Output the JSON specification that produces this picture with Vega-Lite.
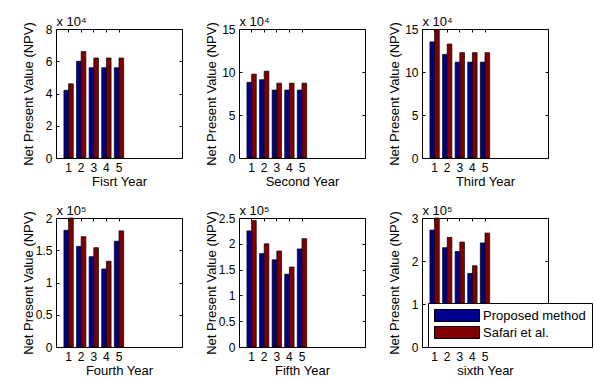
{
  "$schema": "https://vega.github.io/schema/vega-lite/v6.json",
  "padding": {"left": 21, "top": 14, "right": 0, "bottom": 0},
  "datasets": {
    "npv": [
      {"panel": "Fisrt Year", "case": 1, "method": "Proposed method", "npv": 42000},
      {"panel": "Fisrt Year", "case": 2, "method": "Proposed method", "npv": 60000},
      {"panel": "Fisrt Year", "case": 3, "method": "Proposed method", "npv": 56000},
      {"panel": "Fisrt Year", "case": 4, "method": "Proposed method", "npv": 56000},
      {"panel": "Fisrt Year", "case": 5, "method": "Proposed method", "npv": 56000},
      {"panel": "Fisrt Year", "case": 1, "method": "Safari et al.", "npv": 46000},
      {"panel": "Fisrt Year", "case": 2, "method": "Safari et al.", "npv": 66000},
      {"panel": "Fisrt Year", "case": 3, "method": "Safari et al.", "npv": 62000},
      {"panel": "Fisrt Year", "case": 4, "method": "Safari et al.", "npv": 62000},
      {"panel": "Fisrt Year", "case": 5, "method": "Safari et al.", "npv": 62000},
      {"panel": "Second Year", "case": 1, "method": "Proposed method", "npv": 88000},
      {"panel": "Second Year", "case": 2, "method": "Proposed method", "npv": 91000},
      {"panel": "Second Year", "case": 3, "method": "Proposed method", "npv": 79000},
      {"panel": "Second Year", "case": 4, "method": "Proposed method", "npv": 79000},
      {"panel": "Second Year", "case": 5, "method": "Proposed method", "npv": 79000},
      {"panel": "Second Year", "case": 1, "method": "Safari et al.", "npv": 97500},
      {"panel": "Second Year", "case": 2, "method": "Safari et al.", "npv": 101000},
      {"panel": "Second Year", "case": 3, "method": "Safari et al.", "npv": 87000},
      {"panel": "Second Year", "case": 4, "method": "Safari et al.", "npv": 87000},
      {"panel": "Second Year", "case": 5, "method": "Safari et al.", "npv": 87000},
      {"panel": "Third Year", "case": 1, "method": "Proposed method", "npv": 135000},
      {"panel": "Third Year", "case": 2, "method": "Proposed method", "npv": 120500},
      {"panel": "Third Year", "case": 3, "method": "Proposed method", "npv": 111500},
      {"panel": "Third Year", "case": 4, "method": "Proposed method", "npv": 111500},
      {"panel": "Third Year", "case": 5, "method": "Proposed method", "npv": 111500},
      {"panel": "Third Year", "case": 1, "method": "Safari et al.", "npv": 149000},
      {"panel": "Third Year", "case": 2, "method": "Safari et al.", "npv": 132500},
      {"panel": "Third Year", "case": 3, "method": "Safari et al.", "npv": 122500},
      {"panel": "Third Year", "case": 4, "method": "Safari et al.", "npv": 122500},
      {"panel": "Third Year", "case": 5, "method": "Safari et al.", "npv": 122500},
      {"panel": "Fourth Year", "case": 1, "method": "Proposed method", "npv": 181000},
      {"panel": "Fourth Year", "case": 2, "method": "Proposed method", "npv": 156000},
      {"panel": "Fourth Year", "case": 3, "method": "Proposed method", "npv": 140000},
      {"panel": "Fourth Year", "case": 4, "method": "Proposed method", "npv": 121000},
      {"panel": "Fourth Year", "case": 5, "method": "Proposed method", "npv": 164000},
      {"panel": "Fourth Year", "case": 1, "method": "Safari et al.", "npv": 200000},
      {"panel": "Fourth Year", "case": 2, "method": "Safari et al.", "npv": 171000},
      {"panel": "Fourth Year", "case": 3, "method": "Safari et al.", "npv": 154000},
      {"panel": "Fourth Year", "case": 4, "method": "Safari et al.", "npv": 133000},
      {"panel": "Fourth Year", "case": 5, "method": "Safari et al.", "npv": 180000},
      {"panel": "Fifth Year", "case": 1, "method": "Proposed method", "npv": 225000},
      {"panel": "Fifth Year", "case": 2, "method": "Proposed method", "npv": 181000},
      {"panel": "Fifth Year", "case": 3, "method": "Proposed method", "npv": 169000},
      {"panel": "Fifth Year", "case": 4, "method": "Proposed method", "npv": 141000},
      {"panel": "Fifth Year", "case": 5, "method": "Proposed method", "npv": 190000},
      {"panel": "Fifth Year", "case": 1, "method": "Safari et al.", "npv": 245000},
      {"panel": "Fifth Year", "case": 2, "method": "Safari et al.", "npv": 200000},
      {"panel": "Fifth Year", "case": 3, "method": "Safari et al.", "npv": 186000},
      {"panel": "Fifth Year", "case": 4, "method": "Safari et al.", "npv": 155000},
      {"panel": "Fifth Year", "case": 5, "method": "Safari et al.", "npv": 210000},
      {"panel": "sixth Year", "case": 1, "method": "Proposed method", "npv": 272000},
      {"panel": "sixth Year", "case": 2, "method": "Proposed method", "npv": 231000},
      {"panel": "sixth Year", "case": 3, "method": "Proposed method", "npv": 222000},
      {"panel": "sixth Year", "case": 4, "method": "Proposed method", "npv": 171000},
      {"panel": "sixth Year", "case": 5, "method": "Proposed method", "npv": 242000},
      {"panel": "sixth Year", "case": 1, "method": "Safari et al.", "npv": 300000},
      {"panel": "sixth Year", "case": 2, "method": "Safari et al.", "npv": 255000},
      {"panel": "sixth Year", "case": 3, "method": "Safari et al.", "npv": 244000},
      {"panel": "sixth Year", "case": 4, "method": "Safari et al.", "npv": 189000},
      {"panel": "sixth Year", "case": 5, "method": "Safari et al.", "npv": 265000}
    ]
  },
  "data": {"name": "npv"},
  "columns": 3,
  "spacing": {"row": 60, "column": 57},
  "bounds": "flush",
  "resolve": {"scale": {"color": "independent"}, "legend": {"color": "independent"}},
  "concat": [
    {
      "width": 126, "height": 129,
      "transform": [{"filter": "datum.panel == 'Fisrt Year'"}],
      "layer": [
        {
          "mark": {"type": "bar", "stroke": "black", "strokeWidth": 0.7},
          "encoding": {
            "x": {"field": "case", "type": "ordinal", "scale": {"domain": [1,2,3,4,5,6,7,8,9], "paddingInner": 0, "paddingOuter": 0.5}, "axis": {"values": [1,2,3,4,5], "title": "Fisrt Year"}},
            "xOffset": {"field": "method", "type": "nominal", "scale": {"domain": ["Proposed method", "Safari et al."], "paddingInner": 0, "paddingOuter": 0.35}},
            "y": {"field": "npv", "type": "quantitative", "stack": null, "scale": {"domain": [0, 80000], "nice": false}, "axis": {"values": [0, 20000, 40000, 60000, 80000], "labelExpr": "datum.value / 10000", "title": "Net Present Value (NPV)"}},
            "color": {"field": "method", "type": "nominal", "scale": {"domain": ["Proposed method", "Safari et al."], "range": ["#00008f", "#800000"]}, "legend": null}
          }
        },
        {
          "mark": {"type": "bar", "opacity": 0},
          "encoding": {
            "x": {"field": "case", "type": "ordinal", "scale": {"domain": [1,2,3,4,5,6,7,8,9], "paddingInner": 0, "paddingOuter": 0.5}, "axis": {"orient": "top", "values": [1,2,3,4,5], "labels": false, "title": "x 10⁴", "titleX": 0, "titleY": -4, "titleAlign": "left", "titleBaseline": "alphabetic", "titleAngle": 0}},
            "y": {"field": "npv", "type": "quantitative", "stack": null, "scale": {"domain": [0, 80000], "nice": false}, "axis": {"orient": "right", "values": [0, 20000, 40000, 60000, 80000], "labels": false, "title": null}}
          }
        }
      ],
      "resolve": {"axis": {"x": "independent", "y": "independent"}}
    },
    {
      "width": 126, "height": 129,
      "transform": [{"filter": "datum.panel == 'Second Year'"}],
      "layer": [
        {
          "mark": {"type": "bar", "stroke": "black", "strokeWidth": 0.7},
          "encoding": {
            "x": {"field": "case", "type": "ordinal", "scale": {"domain": [1,2,3,4,5,6,7,8,9], "paddingInner": 0, "paddingOuter": 0.5}, "axis": {"values": [1,2,3,4,5], "title": "Second Year"}},
            "xOffset": {"field": "method", "type": "nominal", "scale": {"domain": ["Proposed method", "Safari et al."], "paddingInner": 0, "paddingOuter": 0.35}},
            "y": {"field": "npv", "type": "quantitative", "stack": null, "scale": {"domain": [0, 150000], "nice": false}, "axis": {"values": [0, 50000, 100000, 150000], "labelExpr": "datum.value / 10000", "title": "Net Present Value (NPV)"}},
            "color": {"field": "method", "type": "nominal", "scale": {"domain": ["Proposed method", "Safari et al."], "range": ["#00008f", "#800000"]}, "legend": null}
          }
        },
        {
          "mark": {"type": "bar", "opacity": 0},
          "encoding": {
            "x": {"field": "case", "type": "ordinal", "scale": {"domain": [1,2,3,4,5,6,7,8,9], "paddingInner": 0, "paddingOuter": 0.5}, "axis": {"orient": "top", "values": [1,2,3,4,5], "labels": false, "title": "x 10⁴", "titleX": 0, "titleY": -4, "titleAlign": "left", "titleBaseline": "alphabetic", "titleAngle": 0}},
            "y": {"field": "npv", "type": "quantitative", "stack": null, "scale": {"domain": [0, 150000], "nice": false}, "axis": {"orient": "right", "values": [0, 50000, 100000, 150000], "labels": false, "title": null}}
          }
        }
      ],
      "resolve": {"axis": {"x": "independent", "y": "independent"}}
    },
    {
      "width": 126, "height": 129,
      "transform": [{"filter": "datum.panel == 'Third Year'"}],
      "layer": [
        {
          "mark": {"type": "bar", "stroke": "black", "strokeWidth": 0.7},
          "encoding": {
            "x": {"field": "case", "type": "ordinal", "scale": {"domain": [1,2,3,4,5,6,7,8,9], "paddingInner": 0, "paddingOuter": 0.5}, "axis": {"values": [1,2,3,4,5], "title": "Third Year"}},
            "xOffset": {"field": "method", "type": "nominal", "scale": {"domain": ["Proposed method", "Safari et al."], "paddingInner": 0, "paddingOuter": 0.35}},
            "y": {"field": "npv", "type": "quantitative", "stack": null, "scale": {"domain": [0, 150000], "nice": false}, "axis": {"values": [0, 50000, 100000, 150000], "labelExpr": "datum.value / 10000", "title": "Net Present Value (NPV)"}},
            "color": {"field": "method", "type": "nominal", "scale": {"domain": ["Proposed method", "Safari et al."], "range": ["#00008f", "#800000"]}, "legend": null}
          }
        },
        {
          "mark": {"type": "bar", "opacity": 0},
          "encoding": {
            "x": {"field": "case", "type": "ordinal", "scale": {"domain": [1,2,3,4,5,6,7,8,9], "paddingInner": 0, "paddingOuter": 0.5}, "axis": {"orient": "top", "values": [1,2,3,4,5], "labels": false, "title": "x 10⁴", "titleX": 0, "titleY": -4, "titleAlign": "left", "titleBaseline": "alphabetic", "titleAngle": 0}},
            "y": {"field": "npv", "type": "quantitative", "stack": null, "scale": {"domain": [0, 150000], "nice": false}, "axis": {"orient": "right", "values": [0, 50000, 100000, 150000], "labels": false, "title": null}}
          }
        }
      ],
      "resolve": {"axis": {"x": "independent", "y": "independent"}}
    },
    {
      "width": 126, "height": 129,
      "transform": [{"filter": "datum.panel == 'Fourth Year'"}],
      "layer": [
        {
          "mark": {"type": "bar", "stroke": "black", "strokeWidth": 0.7},
          "encoding": {
            "x": {"field": "case", "type": "ordinal", "scale": {"domain": [1,2,3,4,5,6,7,8,9], "paddingInner": 0, "paddingOuter": 0.5}, "axis": {"values": [1,2,3,4,5], "title": "Fourth Year"}},
            "xOffset": {"field": "method", "type": "nominal", "scale": {"domain": ["Proposed method", "Safari et al."], "paddingInner": 0, "paddingOuter": 0.35}},
            "y": {"field": "npv", "type": "quantitative", "stack": null, "scale": {"domain": [0, 200000], "nice": false}, "axis": {"values": [0, 50000, 100000, 150000, 200000], "labelExpr": "datum.value / 100000", "title": "Net Present Value (NPV)"}},
            "color": {"field": "method", "type": "nominal", "scale": {"domain": ["Proposed method", "Safari et al."], "range": ["#00008f", "#800000"]}, "legend": null}
          }
        },
        {
          "mark": {"type": "bar", "opacity": 0},
          "encoding": {
            "x": {"field": "case", "type": "ordinal", "scale": {"domain": [1,2,3,4,5,6,7,8,9], "paddingInner": 0, "paddingOuter": 0.5}, "axis": {"orient": "top", "values": [1,2,3,4,5], "labels": false, "title": "x 10⁵", "titleX": 0, "titleY": -4, "titleAlign": "left", "titleBaseline": "alphabetic", "titleAngle": 0}},
            "y": {"field": "npv", "type": "quantitative", "stack": null, "scale": {"domain": [0, 200000], "nice": false}, "axis": {"orient": "right", "values": [0, 50000, 100000, 150000, 200000], "labels": false, "title": null}}
          }
        }
      ],
      "resolve": {"axis": {"x": "independent", "y": "independent"}}
    },
    {
      "width": 126, "height": 129,
      "transform": [{"filter": "datum.panel == 'Fifth Year'"}],
      "layer": [
        {
          "mark": {"type": "bar", "stroke": "black", "strokeWidth": 0.7},
          "encoding": {
            "x": {"field": "case", "type": "ordinal", "scale": {"domain": [1,2,3,4,5,6,7,8,9], "paddingInner": 0, "paddingOuter": 0.5}, "axis": {"values": [1,2,3,4,5], "title": "Fifth Year"}},
            "xOffset": {"field": "method", "type": "nominal", "scale": {"domain": ["Proposed method", "Safari et al."], "paddingInner": 0, "paddingOuter": 0.35}},
            "y": {"field": "npv", "type": "quantitative", "stack": null, "scale": {"domain": [0, 250000], "nice": false}, "axis": {"values": [0, 50000, 100000, 150000, 200000, 250000], "labelExpr": "datum.value / 100000", "title": "Net Present Value (NPV)"}},
            "color": {"field": "method", "type": "nominal", "scale": {"domain": ["Proposed method", "Safari et al."], "range": ["#00008f", "#800000"]}, "legend": null}
          }
        },
        {
          "mark": {"type": "bar", "opacity": 0},
          "encoding": {
            "x": {"field": "case", "type": "ordinal", "scale": {"domain": [1,2,3,4,5,6,7,8,9], "paddingInner": 0, "paddingOuter": 0.5}, "axis": {"orient": "top", "values": [1,2,3,4,5], "labels": false, "title": "x 10⁵", "titleX": 0, "titleY": -4, "titleAlign": "left", "titleBaseline": "alphabetic", "titleAngle": 0}},
            "y": {"field": "npv", "type": "quantitative", "stack": null, "scale": {"domain": [0, 250000], "nice": false}, "axis": {"orient": "right", "values": [0, 50000, 100000, 150000, 200000, 250000], "labels": false, "title": null}}
          }
        }
      ],
      "resolve": {"axis": {"x": "independent", "y": "independent"}}
    },
    {
      "width": 126, "height": 129,
      "transform": [{"filter": "datum.panel == 'sixth Year'"}],
      "layer": [
        {
          "mark": {"type": "bar", "stroke": "black", "strokeWidth": 0.7},
          "encoding": {
            "x": {"field": "case", "type": "ordinal", "scale": {"domain": [1,2,3,4,5,6,7,8,9], "paddingInner": 0, "paddingOuter": 0.5}, "axis": {"values": [1,2,3,4,5], "title": "sixth Year"}},
            "xOffset": {"field": "method", "type": "nominal", "scale": {"domain": ["Proposed method", "Safari et al."], "paddingInner": 0, "paddingOuter": 0.35}},
            "y": {"field": "npv", "type": "quantitative", "stack": null, "scale": {"domain": [0, 300000], "nice": false}, "axis": {"values": [0, 100000, 200000, 300000], "labelExpr": "datum.value / 100000", "title": "Net Present Value (NPV)"}},
            "color": {"field": "method", "type": "nominal", "scale": {"domain": ["Proposed method", "Safari et al."], "range": ["#00008f", "#800000"]},
              "legend": {"orient": "none", "legendX": 6, "legendY": 85, "title": null, "symbolType": "M-1,-1L6.5,-1L6.5,1L-1,1Z", "symbolSize": 144, "symbolStrokeColor": "black", "symbolStrokeWidth": 1, "symbolOpacity": 1, "labelFontSize": 13, "labelColor": "black", "labelOffset": 36, "labelLimit": 300, "rowPadding": 0, "padding": 6, "strokeColor": "black", "fillColor": "white", "zindex": 1}}
          }
        },
        {
          "mark": {"type": "bar", "opacity": 0},
          "encoding": {
            "x": {"field": "case", "type": "ordinal", "scale": {"domain": [1,2,3,4,5,6,7,8,9], "paddingInner": 0, "paddingOuter": 0.5}, "axis": {"orient": "top", "values": [1,2,3,4,5], "labels": false, "title": "x 10⁵", "titleX": 0, "titleY": -4, "titleAlign": "left", "titleBaseline": "alphabetic", "titleAngle": 0}},
            "y": {"field": "npv", "type": "quantitative", "stack": null, "scale": {"domain": [0, 300000], "nice": false}, "axis": {"orient": "right", "values": [0, 100000, 200000, 300000], "labels": false, "title": null}}
          }
        }
      ],
      "resolve": {"axis": {"x": "independent", "y": "independent"}}
    }
  ],
  "config": {
    "font": "Liberation Sans",
    "view": {"stroke": "black", "strokeWidth": 1},
    "axis": {"domain": false, "grid": false, "tickColor": "black", "tickSize": -3, "labelFontSize": 12, "labelColor": "black", "labelPadding": 7, "titleFontSize": 13, "titleFontWeight": "normal", "titleColor": "black"},
    "axisX": {"labelAngle": 0, "titlePadding": 2},
    "axisY": {"titleX": -21, "titleY": 64.5}
  }
}
